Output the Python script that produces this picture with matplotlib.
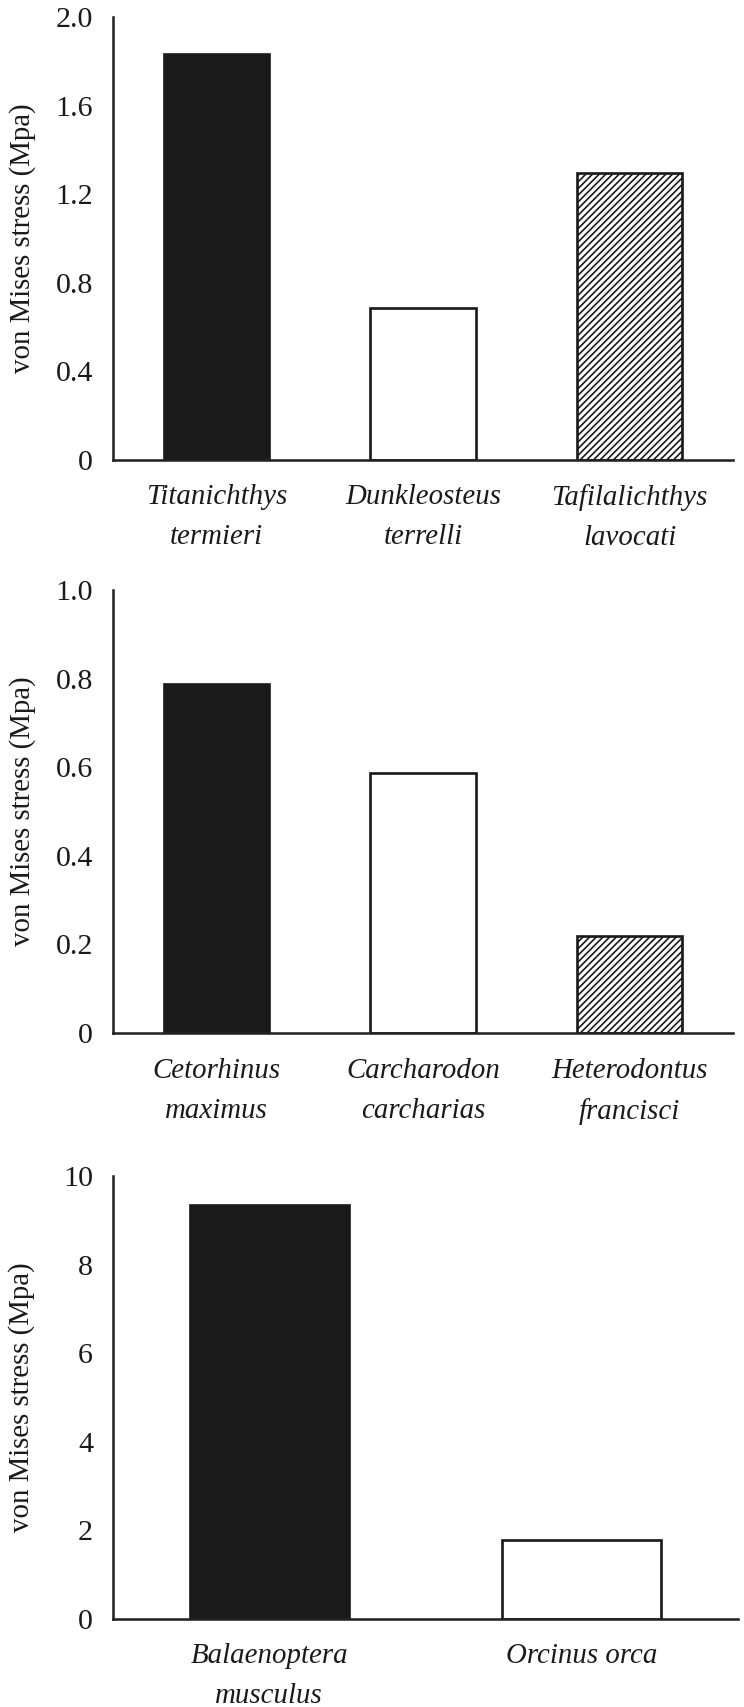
import numpy as np
import matplotlib
matplotlib.use("Agg")
import matplotlib.pyplot as plt
from matplotlib import font_manager

# panel A - placoderms
cats_a = ["Titanichthys\ntermieri", "Dunkleosteus\nterrelli", "Tafilalichthys\nlavocati"]
vals_a = [1.835, 0.685, 1.295]
ticks_a = [0, 0.4, 0.8, 1.2, 1.6, 2.0]
labels_a = ["0", "0.4", "0.8", "1.2", "1.6", "2.0"]

# panel B - sharks
cats_b = ["Cetorhinus\nmaximus", "Carcharodon\ncarcharias", "Heterodontus\nfrancisci"]
vals_b = [0.787, 0.587, 0.219]
ticks_b = [0, 0.2, 0.4, 0.6, 0.8, 1.0]
labels_b = ["0", "0.2", "0.4", "0.6", "0.8", "1.0"]

# panel C - whales
cats_c = ["Balaenoptera\nmusculus", "Orcinus orca"]
vals_c = [9.35, 1.78]
ticks_c = [0, 2, 4, 6, 8, 10]
labels_c = ["0", "2", "4", "6", "8", "10"]

ylab = "von Mises stress (Mpa)"

# pick a Times-like face that is actually there
have = {f.name for f in font_manager.fontManager.ttflist}
serif = [n for n in ['Liberation Serif', 'Times New Roman', 'Tinos', 'Nimbus Roman',
                     'TeX Gyre Termes', 'STIXGeneral'] if n in have]
plt.rcParams['font.family'] = serif + ['DejaVu Serif']
plt.rcParams['hatch.linewidth'] = 1.5
plt.rcParams['hatch.color'] = '#1a1a1a'

DPI = 80
fig = plt.figure(figsize=(744 / DPI, 1707 / DPI), dpi=DPI)

dark = '#1a1a1a'
styles = [dict(color=dark, edgecolor=dark, hatch=None),
          dict(color='white', edgecolor=dark, hatch=None),
          dict(color='white', edgecolor=dark, hatch='////')]

# axes rects in figure fractions (left, bottom, width, height)
rects = [(0.1519, 0.7305, 0.8333, 0.2595),
         (0.1519, 0.3948, 0.8333, 0.2595),
         (0.1519, 0.0516, 0.8400, 0.2595)]

panels = [(cats_a, vals_a, ticks_a, labels_a),
          (cats_b, vals_b, ticks_b, labels_b),
          (cats_c, vals_c, ticks_c, labels_c)]

for rect, (cats, vals, ticks, labels) in zip(rects, panels):
    ax = fig.add_axes(rect)
    x = np.arange(len(cats))
    for i in range(len(cats)):
        st = styles[i]
        ax.bar(x[i], vals[i], width=0.51, color=st['color'], edgecolor=st['edgecolor'],
               hatch=st['hatch'], linewidth=2.4, zorder=2)
    ax.set_xlim(-0.5, len(cats) - 0.5)
    ax.set_ylim(0, ticks[-1])
    ax.set_yticks(ticks)
    ax.set_yticklabels(labels, fontsize=27)
    ax.set_xticks(x)
    ax.set_xticklabels(cats, fontsize=26, style='italic', linespacing=1.7)
    ax.tick_params(axis='both', length=0, colors='#1a1a1a')
    ax.tick_params(axis='y', pad=18)
    ax.tick_params(axis='x', pad=22)
    for s in ['top', 'right']:
        ax.spines[s].set_visible(False)
    for s in ['left', 'bottom']:
        ax.spines[s].set_linewidth(2.3)
        ax.spines[s].set_color('#222222')
        ax.spines[s].set_zorder(3)
    ax.set_ylabel(ylab, fontsize=26, color='#1a1a1a')
    ax.yaxis.set_label_coords(-0.125, 0.5)

fig.savefig("out.png", dpi=DPI, facecolor='white')
